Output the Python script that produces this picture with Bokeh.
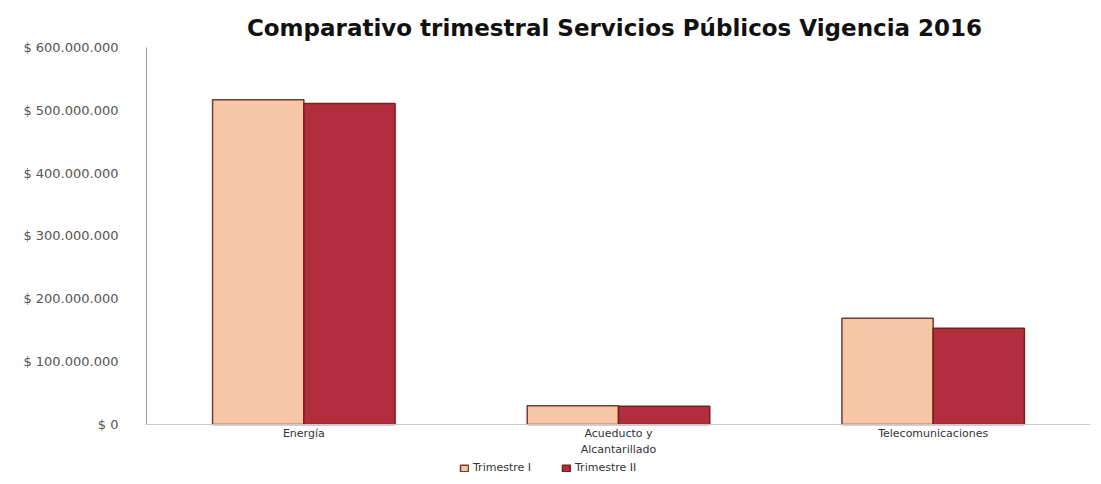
from bokeh.plotting import figure
from bokeh.models import ColumnDataSource, FixedTicker, Legend, LegendItem
from bokeh.transform import dodge
from bokeh.embed import file_html
from bokeh.resources import INLINE

categories = ["Energía", "Acueducto y\nAlcantarillado", "Telecomunicaciones"]
trimestre_1 = [517000000, 30000000, 169000000]
trimestre_2 = [511000000, 29000000, 153000000]
y_ticks = [0, 100000000, 200000000, 300000000, 400000000, 500000000, 600000000]
y_tick_labels = ["$ 0", "$ 100.000.000", "$ 200.000.000", "$ 300.000.000",
                 "$ 400.000.000", "$ 500.000.000", "$ 600.000.000"]
series_names = ["Trimestre I", "Trimestre II"]

src = ColumnDataSource(dict(cat=categories, t1=trimestre_1, t2=trimestre_2))

# frame extends below the zero line to leave room for category labels and legend
p = figure(x_range=categories, y_range=(-82760000, 600000000),
           frame_width=944, frame_height=429,
           output_backend="svg", toolbar_location=None,
           min_border_left=146, min_border_right=3, min_border_top=47,
           min_border_bottom=0)
p.title.text = "Comparativo  trimestral Servicios Públicos Vigencia 2016"
p.title.align = "center"
p.title.text_font = "DejaVu Sans"
p.title.text_font_size = "23px"
p.title.text_font_style = "bold"
p.title.text_color = "#111111"
p.title.standoff = 14

r1 = p.vbar(x=dodge("cat", -0.145, range=p.x_range), top="t1", width=0.29, source=src,
            fill_color="#F7C6A6", line_color="#7A3A2C", line_width=1.5)
r2 = p.vbar(x=dodge("cat", 0.145, range=p.x_range), top="t2", width=0.29, source=src,
            fill_color="#B22E3E", line_color="#7A1E1A", line_width=1.5)

p.xgrid.visible = False
p.ygrid.visible = False
p.outline_line_color = None

p.yaxis.ticker = FixedTicker(ticks=y_ticks)
p.yaxis.bounds = (0, 600000000)
p.yaxis.major_label_overrides = {t: l for t, l in zip(y_ticks, y_tick_labels)}
p.yaxis.major_tick_line_color = None
p.yaxis.minor_tick_line_color = None
p.yaxis.axis_line_color = "#9a9a9a"
p.yaxis.major_label_text_font = "DejaVu Sans"
p.yaxis.major_label_text_font_size = "13px"
p.yaxis.major_label_text_color = "#555555"
p.yaxis.major_label_standoff = 22

p.xaxis.fixed_location = 0
p.xaxis.axis_line_color = "#c8c8c8"
p.xaxis.major_tick_line_color = None
p.xaxis.major_label_text_font = "DejaVu Sans"
p.xaxis.major_label_text_font_size = "11px"
p.xaxis.major_label_text_color = "#333333"
p.xaxis.major_label_standoff = 3
p.xaxis.major_tick_out = 0
p.xaxis.major_tick_in = 0

legend = Legend(items=[LegendItem(label=series_names[0], renderers=[r1]),
                       LegendItem(label=series_names[1], renderers=[r2])],
                orientation="horizontal", location=(313, 2),
                label_text_font="DejaVu Sans", label_text_font_size="11px",
                label_text_color="#333333", glyph_width=10, glyph_height=8,
                spacing=30, padding=1, margin=0, border_line_color=None,
                background_fill_alpha=0, label_standoff=4,
                label_height=10)
p.add_layout(legend, "center")

open("out.html", "w").write(file_html(p, INLINE))
